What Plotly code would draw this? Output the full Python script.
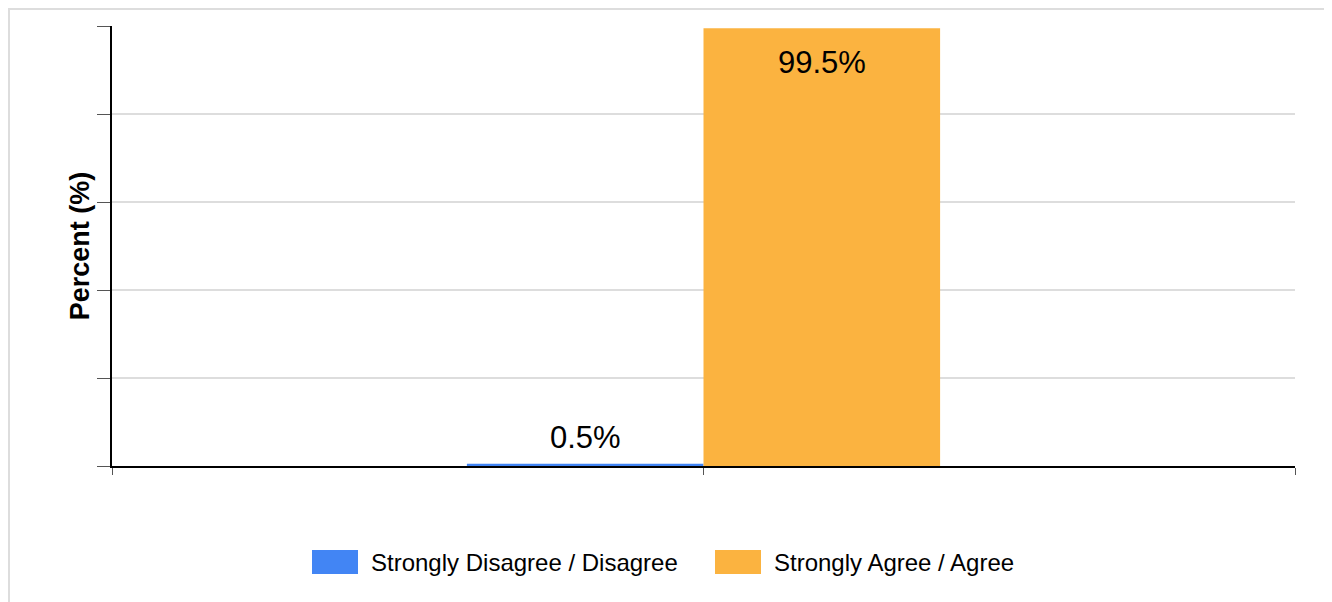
import plotly.graph_objects as go

# ---- data ----
series_names = ["Strongly Disagree / Disagree", "Strongly Agree / Agree"]
series_values = [0.5, 99.5]
series_labels = ["0.5%", "99.5%"]
series_colors = ["#4285F4", "#FBB340"]
group = [0]

W, H = 1332, 602
OX, OY = 8, 8  # page body offset of the figure in the browser
# target pixel positions of the plot area in the window
PL, PR, PT, PB = 112, 1295, 26, 466
L, T = PL - OX, PT - OY
R, B = W - (PR - OX), H - (PB - OY)
PW, PH = PR - PL, PB - PT

def px_x(p):
    return (p - PL) / PW

def px_y(p):
    return (PB - p) / PH

FONT = "Liberation Sans, Arial, sans-serif"
BAR_W = 0.4

fig = go.Figure()
offsets = [-BAR_W, 0]
for name, val, col, off in zip(series_names, series_values, series_colors, offsets):
    fig.add_trace(go.Bar(
        x=group, y=[val], name=name, marker=dict(color=col, line=dict(width=0)),
        width=BAR_W, offset=off, showlegend=False,
    ))

annotations = []
# value labels: small value above bar, large value inside near top
label_shifts = [26, -34]
for val, lab, off, ys in zip(series_values, series_labels, offsets, label_shifts):
    annotations.append(dict(xref="x", yref="y", x=group[0] + off + BAR_W / 2, y=val,
                            yshift=ys, xanchor="center", yanchor="middle", showarrow=False,
                            text=lab, font=dict(size=31, color="black", family=FONT)))

shapes = [
    dict(type="rect", xref="paper", yref="paper",
         x0=px_x(9), x1=px_x(W + 20), y0=px_y(H + 20), y1=px_y(9),
         line=dict(color="#dddddd", width=2), layer="below"),
]
legend_boxes = [(312, 358), (715, 761)]
for (x0, x1), name, col in zip(legend_boxes, series_names, series_colors):
    shapes.append(dict(type="rect", xref="paper", yref="paper",
                       x0=px_x(x0), x1=px_x(x1), y0=px_y(574), y1=px_y(550),
                       fillcolor=col, line=dict(width=0)))
    annotations.append(dict(xref="paper", yref="paper", x=px_x(x1 + 11), y=px_y(562),
                            xanchor="left", yanchor="middle", showarrow=False,
                            text=name, font=dict(size=24, color="black", family=FONT)))

fig.update_layout(
    width=W, height=H,
    margin=dict(l=L, r=R, t=T, b=B, pad=0),
    paper_bgcolor="white", plot_bgcolor="white",
    barmode="overlay",
    shapes=shapes, annotations=annotations,
    font=dict(family=FONT, color="black"),
    xaxis=dict(range=[-1, 1], tickmode="linear", tick0=-1, dtick=1, showticklabels=False,
               ticks="outside", ticklen=7, tickcolor="#555", tickwidth=1,
               showgrid=False, zeroline=False, showline=True, linecolor="black", linewidth=2,
               fixedrange=True),
    yaxis=dict(range=[0, 100], tickmode="linear", tick0=0, dtick=20, showticklabels=False,
               ticks="outside", ticklen=13, tickcolor="#555", tickwidth=1,
               showgrid=True, gridcolor="#dddddd", gridwidth=2, zeroline=False,
               showline=True, linecolor="black", linewidth=2,
               title=dict(text="<b>Percent (%)</b>", font=dict(size=27, color="black", family=FONT), standoff=0),
               fixedrange=True),
    showlegend=False,
)

fig.write_html("out.html")
